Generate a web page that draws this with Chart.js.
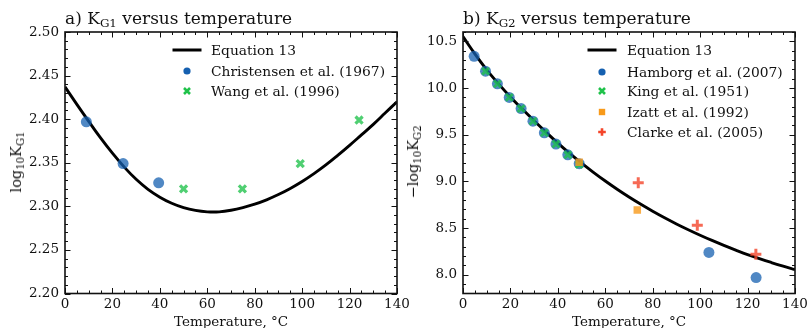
<!DOCTYPE html>
<html>
<head>
<meta charset="utf-8">
<script src="https://cdn.jsdelivr.net/npm/chart.js@4.4.0/dist/chart.umd.min.js"></script>
<style>
body { margin:0; background:#fff; width:808px; height:328px; overflow:hidden; position:relative; font-family:"DejaVu Serif", serif; color:#111; }
canvas { position:absolute; top:0; }
#c1 { left:0; z-index:1; }
#c2 { left:404px; z-index:2; }
.txt { position:absolute; white-space:nowrap; z-index:5; }
.title { font-size:17px; line-height:17px; }
.ytitle { font-size:14.5px; line-height:16px; transform:translate(-50%,-50%) rotate(-90deg); }
.leg { font-size:13.8px; line-height:16px; }
.ico { position:absolute; z-index:5; overflow:visible; }
sub { font-size:70%; vertical-align:baseline; position:relative; top:0.3em; }
</style>
</head>
<body>
<canvas id="c1" width="420" height="340"></canvas>
<canvas id="c2" width="404" height="340"></canvas>

<div class="txt title" style="left:65px;top:9.6px">a) K<sub>G1</sub> versus temperature</div>
<div class="txt title" style="left:463px;top:9.6px">b) K<sub>G2</sub> versus temperature</div>
<div class="txt ytitle" style="left:17px;top:162px">log<sub>10</sub>K<sub>G1</sub></div>
<div class="txt ytitle" style="left:414px;top:162px">&minus;log<sub>10</sub>K<sub>G2</sub></div>
<div id="legends"></div>

<script>
// temperature grid of the fitted curve (°C)
const curveT = [0, 5, 10, 15, 20, 25, 30, 35, 40, 45, 50, 55, 60, 65, 70, 75, 80, 85, 90, 95, 100, 105, 110, 115, 120, 125, 130, 135, 140];

// panel a: log10 KG1
const kg1Curve = [2.437, 2.417, 2.3975, 2.3785, 2.361, 2.345, 2.331, 2.3195, 2.3105, 2.3035, 2.2985, 2.2953, 2.2937, 2.2937, 2.2955, 2.2985, 2.3025, 2.3075, 2.3135, 2.3205, 2.3285, 2.3375, 2.3475, 2.3585, 2.370, 2.382, 2.394, 2.407, 2.420];
const christensenT = [9, 24.5, 39.5];
const christensenK = [2.397, 2.349, 2.327];
const wangT = [50, 74.8, 99.2, 124];
const wangK = [2.320, 2.320, 2.349, 2.399];

// panel b: -log10 KG2
const kg2Curve = [10.55, 10.365, 10.195, 10.045, 9.905, 9.775, 9.65, 9.528, 9.41, 9.30, 9.195, 9.097, 9.004, 8.916, 8.833, 8.755, 8.681, 8.611, 8.545, 8.483, 8.424, 8.368, 8.315, 8.265, 8.217, 8.174, 8.132, 8.092, 8.055];
const hamborgT = [4.7, 9.5, 14.5, 19.5, 24.5, 29.5, 34.3, 39.2, 44.2, 49, 103.7, 123.6];
const hamborgK = [10.34, 10.18, 10.045, 9.90, 9.78, 9.645, 9.52, 9.40, 9.285, 9.19, 8.24, 7.97];
const kingT = [9.5, 14.5, 19.5, 24.5, 29.5, 34.3, 39.2, 44.2, 49];
const kingK = [10.18, 10.045, 9.90, 9.78, 9.645, 9.52, 9.40, 9.285, 9.18];
const izattT = [49, 73.5];
const izattK = [9.205, 8.695];
const clarkeT = [73.9, 98.8, 123.5];
const clarkeK = [8.985, 8.53, 8.22];

// ticks
const xTicks = [0, 20, 40, 60, 80, 100, 120, 140];
const yTicksA = [2.20, 2.25, 2.30, 2.35, 2.40, 2.45, 2.50];
const yTicksB = [8.0, 8.5, 9.0, 9.5, 10.0, 10.5];

const BLUE = '#1560b0', GREEN = '#1fc24a', ORANGE = '#f89a1a', RED = '#f4452a';
const BLUE_A = 'rgba(21,96,176,0.75)', GREEN_A = 'rgba(31,194,74,0.78)';
const ORANGE_A = 'rgba(248,154,26,0.8)', RED_A = 'rgba(244,69,42,0.8)';
const FONT = { family: 'DejaVu Serif', size: 13.5 };
const INK = '#111';

function pts(xs, ys) {
    return xs.map((x, i) => ({ x: x, y: ys[i] }));
}

// frame and inward major/minor ticks on all four sides
const frameTicks = {
    id: 'frameTicks',
    afterDraw(chart, args, opts) {
        const ctx = chart.ctx;
        const a = chart.chartArea;
        const x = chart.scales.x, y = chart.scales.y;
        ctx.save();
        ctx.strokeStyle = INK;
        ctx.lineWidth = 1;
        ctx.beginPath();
        function xt(v, len) {
            const p = Math.round(x.getPixelForValue(v)) + 0.5;
            ctx.moveTo(p, a.bottom); ctx.lineTo(p, a.bottom - len);
            ctx.moveTo(p, a.top); ctx.lineTo(p, a.top + len);
        }
        function yt(v, len) {
            const p = Math.round(y.getPixelForValue(v)) + 0.5;
            ctx.moveTo(a.left, p); ctx.lineTo(a.left + len, p);
            ctx.moveTo(a.right, p); ctx.lineTo(a.right - len, p);
        }
        for (let v = x.min; v <= x.max + 1e-9; v += opts.xMinor) xt(v, 3);
        for (let k = Math.ceil(y.min / opts.yMinor - 1e-6); k * opts.yMinor <= y.max + 1e-9; k++) yt(k * opts.yMinor, 3);
        xTicks.forEach(v => xt(v, 5.5));
        opts.yTicks.forEach(v => yt(v, 5.5));
        ctx.stroke();
        ctx.lineWidth = 1.6;
        ctx.strokeRect(a.left, a.top, a.width, a.height);
        ctx.restore();
    }
};

function makeChart(id, datasets, yMin, yMax, yTicks, yDigits, yMinor, yWidth, pad) {
    return new Chart(document.getElementById(id), {
        type: 'scatter',
        data: { datasets: datasets },
        options: {
            responsive: false,
            animation: false,
            events: [],
            layout: { padding: pad },
            plugins: {
                legend: { display: false },
                tooltip: { enabled: false },
                frameTicks: { xMinor: 5, yMinor: yMinor, yTicks: yTicks }
            },
            scales: {
                x: {
                    type: 'linear', min: 0, max: 140,
                    afterBuildTicks: s => { s.ticks = xTicks.map(v => ({ value: v })); },
                    afterFit: s => { s.height = 46.5; s.paddingLeft = 0; s.paddingRight = 0; },
                    grid: { display: false, drawTicks: false },
                    border: { display: false },
                    ticks: { font: FONT, color: INK, padding: 3, maxRotation: 0, autoSkip: false, callback: v => String(v) },
                    title: { display: true, text: 'Temperature, °C', font: FONT, color: INK, padding: { top: 0, bottom: 9 } }
                },
                y: {
                    type: 'linear', min: yMin, max: yMax,
                    afterBuildTicks: s => { s.ticks = yTicks.map(v => ({ value: v })); },
                    afterFit: s => { s.width = yWidth; s.paddingTop = 0; s.paddingBottom = 0; },
                    grid: { display: false, drawTicks: false },
                    border: { display: false },
                    ticks: { font: FONT, color: INK, padding: 6, autoSkip: false, callback: v => Number(v).toFixed(yDigits) }
                }
            }
        },
        plugins: [frameTicks]
    });
}

const curveStyle = { showLine: true, borderColor: '#000', borderWidth: 2.9, pointRadius: 0, tension: 0.4, fill: false };

makeChart('c1', [
    Object.assign({ label: 'Equation 13', data: pts(curveT, kg1Curve), order: 5 }, curveStyle),
    { label: 'Christensen et al. (1967)', data: pts(christensenT, christensenK), order: 4,
      pointStyle: 'circle', pointRadius: 5.5, backgroundColor: BLUE_A, borderWidth: 0 },
    { label: 'Wang et al. (1996)', data: pts(wangT, wangK), order: 3,
      pointStyle: 'crossRot', pointRadius: 5, borderColor: GREEN_A, borderWidth: 3.2, backgroundColor: GREEN_A }
], 2.2, 2.5, yTicksA, 2, 0.01, 65, { left: 0, right: 23, top: 32, bottom: 0 });

makeChart('c2', [
    Object.assign({ label: 'Equation 13', data: pts(curveT, kg2Curve), order: 6 }, curveStyle),
    { label: 'Hamborg et al. (2007)', data: pts(hamborgT, hamborgK), order: 5,
      pointStyle: 'circle', pointRadius: 5.5, backgroundColor: BLUE_A, borderWidth: 0 },
    { label: 'King et al. (1951)', data: pts(kingT, kingK), order: 4,
      pointStyle: 'crossRot', pointRadius: 4.8, borderColor: GREEN_A, borderWidth: 3, backgroundColor: GREEN_A },
    { label: 'Izatt et al. (1992)', data: pts(izattT, izattK), order: 3,
      pointStyle: 'rect', pointRadius: 5.3, backgroundColor: ORANGE_A, borderWidth: 0 },
    { label: 'Clarke et al. (2005)', data: pts(clarkeT, clarkeK), order: 2,
      pointStyle: 'cross', pointRadius: 5.5, borderColor: RED_A, borderWidth: 3, backgroundColor: RED_A }
], 7.8, 10.6, yTicksB, 1, 0.1, 59, { left: 0, right: 13, top: 32, bottom: 0 });

// legends drawn inside the axes, upper right
const icons = {
    line: '<rect x="-14.5" y="-1.5" width="29" height="3" fill="#000"/>',
    circle: c => `<circle cx="0" cy="0" r="3.6" fill="${c}"/>`,
    x: c => `<path d="M-3,-3L3,3M3,-3L-3,3" stroke="${c}" stroke-width="2.6"/>`,
    square: c => `<rect x="-3.2" y="-3.2" width="6.4" height="6.4" fill="${c}"/>`,
    plus: c => `<path d="M-3.8,0H3.8M0,-3.8V3.8" stroke="${c}" stroke-width="2.6"/>`
};
function legend(iconX, textX, rows) {
    const host = document.getElementById('legends');
    rows.forEach(r => {
        const svg = document.createElementNS('http://www.w3.org/2000/svg', 'svg');
        svg.setAttribute('class', 'ico');
        svg.setAttribute('width', '40'); svg.setAttribute('height', '20');
        svg.setAttribute('viewBox', '-20 -10 40 20');
        svg.style.left = (iconX - 20) + 'px';
        svg.style.top = (r.y - 10) + 'px';
        svg.innerHTML = r.icon;
        host.appendChild(svg);
        const d = document.createElement('div');
        d.className = 'txt leg';
        d.style.left = textX + 'px';
        d.style.top = (r.y - 8) + 'px';
        d.textContent = r.text;
        host.appendChild(d);
    });
}
legend(186.5, 211, [
    { y: 50, icon: icons.line, text: 'Equation 13' },
    { y: 71, icon: icons.circle(BLUE), text: 'Christensen et al. (1967)' },
    { y: 90.5, icon: icons.x(GREEN), text: 'Wang et al. (1996)' }
]);
legend(602, 627, [
    { y: 50, icon: icons.line, text: 'Equation 13' },
    { y: 71.5, icon: icons.circle(BLUE), text: 'Hamborg et al. (2007)' },
    { y: 91, icon: icons.x(GREEN), text: 'King et al. (1951)' },
    { y: 111.5, icon: icons.square(ORANGE), text: 'Izatt et al. (1992)' },
    { y: 131.5, icon: icons.plus(RED), text: 'Clarke et al. (2005)' }
]);
</script>
</body>
</html>
